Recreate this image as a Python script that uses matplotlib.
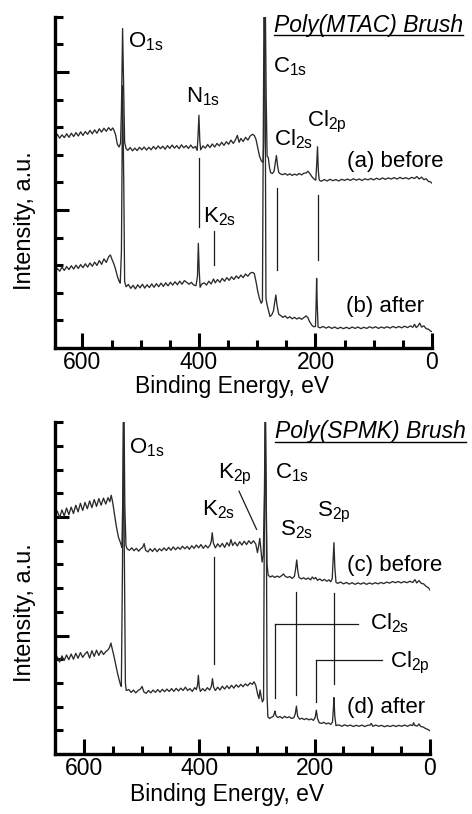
import numpy as np
import matplotlib
matplotlib.use('Agg')
import matplotlib.pyplot as plt
from matplotlib.ticker import MultipleLocator
from matplotlib.lines import Line2D

plt.rcParams['font.family'] = ['Liberation Sans', 'DejaVu Sans']
plt.rcParams['mathtext.fontset'] = 'custom'
plt.rcParams['mathtext.rm'] = 'Liberation Sans'
plt.rcParams['mathtext.it'] = 'Liberation Sans:italic'

# ---- spectra: (binding energy eV, intensity a.u.) ----
# top panel, Poly(MTAC): (a) before, (b) after
spec_a = [(647, 7.60), (643, 7.74), (639, 7.60), (635, 7.72), (631, 7.62), (627, 7.76), (623, 7.63),
          (619, 7.78), (615, 7.66), (611, 7.80), (607, 7.68), (603, 7.83), (599, 7.70), (595, 7.84),
          (591, 7.74), (587, 7.88), (583, 7.76), (579, 7.90), (575, 7.78), (571, 7.94), (567, 7.82),
          (563, 7.96), (559, 7.85), (555, 7.98), (551, 7.88), (548, 7.97), (546, 7.90), (543, 7.72),
          (540, 7.38), (537, 7.28), (534.5, 7.42), (533, 8.6), (531, 11.57), (529, 9.2), (527.5, 7.45),
          (525, 7.22), (522, 7.16), (518, 7.26), (514, 7.14), (510, 7.24), (506, 7.15), (502, 7.27),
          (498, 7.18), (494, 7.28), (490, 7.17), (486, 7.27), (482, 7.18), (478, 7.30), (474, 7.20),
          (470, 7.32), (466, 7.22), (462, 7.31), (458, 7.20), (454, 7.33), (450, 7.23), (446, 7.35),
          (442, 7.24), (438, 7.33), (434, 7.22), (430, 7.36), (426, 7.25), (422, 7.33), (418, 7.23),
          (414, 7.35), (410, 7.24), (406, 7.30), (403, 7.16), (401.5, 7.7), (400, 8.43), (398.5, 7.5),
          (397, 7.18), (393, 7.32), (389, 7.24), (385, 7.37), (381, 7.26), (377, 7.39), (373, 7.28),
          (369, 7.41), (365, 7.32), (361, 7.45), (357, 7.34), (353, 7.47), (349, 7.38), (345, 7.53),
          (341, 7.41), (337, 7.55), (334, 7.70), (331, 7.45), (328, 7.59), (324, 7.48), (320, 7.63),
          (316, 7.53), (312, 7.68), (308, 7.74), (305, 7.70), (302, 7.55), (299, 7.25), (296, 6.95),
          (293, 6.78), (290, 6.72), (288.5, 7.5), (286.5, 13.5), (284.5, 9.0), (283, 6.95), (281, 6.90),
          (279, 6.55), (277, 6.35), (274, 6.32), (271, 6.40), (269, 6.7), (267, 6.97), (265, 6.6),
          (263, 6.36), (260, 6.30), (256, 6.28), (252, 6.32), (248, 6.26), (244, 6.31), (240, 6.25),
          (236, 6.30), (232, 6.26), (228, 6.32), (224, 6.27), (220, 6.33), (216, 6.34), (213, 6.40),
          (210, 6.33), (206, 6.20), (202, 6.11), (199.5, 6.08), (198, 6.6), (196.5, 7.29), (195, 6.4),
          (193.5, 6.08), (190, 6.04), (185, 6.10), (180, 6.05), (175, 6.11), (170, 6.06), (165, 6.10),
          (160, 6.05), (155, 6.11), (150, 6.07), (145, 6.12), (140, 6.07), (135, 6.13), (130, 6.08),
          (125, 6.12), (120, 6.07), (115, 6.13), (110, 6.09), (105, 6.14), (100, 6.09), (95, 6.15),
          (90, 6.10), (85, 6.16), (80, 6.11), (75, 6.16), (70, 6.12), (65, 6.17), (60, 6.12),
          (55, 6.18), (50, 6.13), (45, 6.17), (40, 6.12), (35, 6.18), (30, 6.14), (26, 6.21),
          (22, 6.12), (18, 6.19), (14, 6.10), (10, 6.13), (6, 6.03), (3, 6.02), (0, 5.97)]

spec_b = [(647, 2.76), (643, 2.88), (639, 2.78), (635, 2.93), (631, 2.81), (627, 2.95), (623, 2.84),
          (619, 2.98), (615, 2.86), (611, 3.00), (607, 2.88), (603, 3.02), (599, 2.91), (595, 3.05),
          (591, 2.93), (587, 3.08), (583, 2.96), (579, 3.11), (575, 2.99), (571, 3.17), (567, 3.03),
          (563, 3.23), (559, 3.10), (555, 3.30), (552, 3.37), (549, 3.20), (546, 3.05), (543, 2.85),
          (540, 2.60), (537, 2.42), (535, 2.35), (533, 3.5), (531, 9.5), (529, 6.0), (527.5, 2.4),
          (525, 2.22), (521, 2.30), (517, 2.16), (513, 2.27), (509, 2.14), (505, 2.29), (501, 2.18),
          (497, 2.31), (493, 2.17), (489, 2.29), (485, 2.19), (481, 2.32), (477, 2.20), (473, 2.33),
          (469, 2.22), (465, 2.35), (461, 2.23), (457, 2.36), (453, 2.25), (449, 2.38), (445, 2.28),
          (441, 2.40), (437, 2.29), (433, 2.42), (429, 2.31), (425, 2.44), (421, 2.38), (417, 2.31),
          (413, 2.38), (409, 2.28), (405, 2.26), (402.5, 2.6), (401, 3.79), (399.5, 2.8), (398, 2.20),
          (395, 2.32), (391, 2.36), (387, 2.28), (383, 2.42), (379, 2.32), (375, 2.50), (372, 2.36),
          (368, 2.48), (364, 2.38), (360, 2.52), (356, 2.42), (352, 2.55), (348, 2.45), (344, 2.58),
          (340, 2.48), (336, 2.61), (332, 2.52), (328, 2.64), (324, 2.55), (320, 2.68), (316, 2.60),
          (312, 2.71), (308, 2.74), (305, 2.70), (302, 2.40), (299, 2.05), (296, 1.78), (293, 1.62),
          (291, 1.70), (290, 6.0), (288, 13.5), (286, 8.0), (285, 1.8), (283, 1.56), (280, 1.30),
          (278, 1.14), (275, 1.20), (272, 1.35), (270, 1.65), (268, 1.92), (266, 1.55), (263, 1.22),
          (260, 1.18), (256, 1.11), (252, 1.16), (248, 1.08), (244, 1.13), (240, 1.06), (236, 1.11),
          (232, 1.05), (228, 1.10), (224, 1.04), (220, 1.10), (216, 1.16), (213, 1.10), (210, 0.95),
          (206, 0.82), (203, 0.77), (200, 0.78), (199, 1.5), (198, 2.52), (197, 1.6), (195.5, 0.76),
          (192, 0.73), (187, 0.78), (182, 0.72), (177, 0.77), (172, 0.71), (167, 0.76), (162, 0.70),
          (157, 0.75), (152, 0.70), (147, 0.75), (142, 0.70), (137, 0.76), (132, 0.71), (127, 0.76),
          (122, 0.70), (117, 0.75), (112, 0.71), (107, 0.77), (102, 0.72), (97, 0.77), (92, 0.71),
          (87, 0.76), (82, 0.72), (77, 0.77), (72, 0.72), (67, 0.78), (62, 0.73), (57, 0.78),
          (52, 0.73), (47, 0.79), (42, 0.74), (37, 0.80), (33, 0.75), (30, 0.86), (27, 0.74),
          (24, 0.80), (21, 0.90), (18, 0.76), (14, 0.80), (10, 0.70), (6, 0.68), (3, 0.62), (0, 0.59)]

# bottom panel, Poly(SPMK): (c) before, (d) after
spec_c = [(650, 10.00), (646, 10.25), (642, 9.98), (638, 10.30), (634, 10.05), (630, 10.38), (626, 10.10),
          (622, 10.42), (618, 10.15), (614, 10.50), (610, 10.22), (606, 10.58), (602, 10.28), (598, 10.62),
          (594, 10.35), (590, 10.68), (586, 10.40), (582, 10.74), (578, 10.45), (574, 10.78), (570, 10.50),
          (566, 10.80), (562, 10.55), (558, 10.82), (555, 10.65), (552.5, 10.92), (550, 10.62), (547, 10.15),
          (544, 9.65), (540, 9.15), (536, 8.88), (534, 8.72), (532, 11.5), (530.5, 15.0), (529, 10.5),
          (527, 8.8), (525, 8.66), (521, 8.60), (517, 8.70), (513, 8.58), (509, 8.68), (505, 8.56),
          (501, 8.67), (498, 8.72), (495.5, 8.88), (493, 8.60), (489, 8.53), (485, 8.66), (481, 8.55),
          (477, 8.68), (473, 8.54), (469, 8.66), (465, 8.58), (461, 8.70), (457, 8.59), (453, 8.72),
          (449, 8.60), (445, 8.74), (441, 8.62), (437, 8.73), (433, 8.64), (429, 8.77), (425, 8.66),
          (421, 8.76), (417, 8.64), (413, 8.79), (409, 8.68), (405, 8.82), (401, 8.70), (397, 8.84),
          (393, 8.68), (389, 8.81), (385, 8.70), (381, 8.83), (379, 9.0), (377.5, 9.34), (375.5, 8.9),
          (372, 8.70), (368, 8.87), (364, 8.74), (360, 8.89), (356, 8.72), (352, 8.92), (348, 8.78),
          (345, 9.05), (342, 8.80), (338, 8.94), (334, 8.78), (330, 8.96), (326, 8.82), (322, 8.98),
          (318, 8.84), (314, 9.00), (310, 8.88), (306, 9.0), (302, 8.86), (299, 8.50), (297, 8.78),
          (295, 9.10), (293, 8.60), (291, 8.10), (289, 8.40), (287, 11.0), (285.5, 15.0), (284, 11.0),
          (282.5, 8.0), (280.5, 7.55), (277, 7.47), (273, 7.52), (269, 7.45), (265, 7.51), (261, 7.46),
          (257, 7.53), (254, 7.60), (251, 7.50), (247, 7.45), (243, 7.49), (239, 7.41), (235, 7.50),
          (233, 7.80), (231, 8.19), (229, 7.70), (227, 7.45), (223, 7.39), (219, 7.44), (215, 7.37),
          (211, 7.43), (207, 7.35), (204, 7.47), (201, 7.39), (198, 7.45), (195, 7.33), (191, 7.39),
          (187, 7.31), (183, 7.37), (179, 7.29), (175, 7.35), (172, 7.27), (169.5, 7.40), (168, 8.20),
          (166.5, 8.92), (165, 7.90), (163, 7.25), (160, 7.20), (155, 7.26), (150, 7.18), (145, 7.24),
          (140, 7.17), (135, 7.23), (130, 7.16), (125, 7.22), (120, 7.17), (115, 7.23), (110, 7.16),
          (105, 7.22), (100, 7.17), (95, 7.23), (90, 7.18), (85, 7.24), (80, 7.19), (75, 7.26),
          (70, 7.21), (65, 7.28), (60, 7.23), (55, 7.28), (50, 7.22), (45, 7.28), (40, 7.23),
          (35, 7.29), (30, 7.24), (26, 7.36), (23, 7.22), (19, 7.32), (15, 7.20), (11, 7.18),
          (7, 7.08), (3, 7.02), (0, 6.92)]

spec_d = [(650, 3.90), (646, 4.10), (642, 3.88), (638, 4.14), (634, 3.95), (630, 4.18), (626, 3.98),
          (622, 4.22), (618, 4.00), (614, 4.25), (610, 4.04), (606, 4.28), (602, 4.08), (598, 4.22),
          (594, 4.32), (590, 4.05), (586, 4.36), (582, 4.12), (578, 4.38), (574, 4.16), (570, 4.36),
          (566, 4.20), (562, 4.32), (558, 4.40), (555.5, 4.50), (553, 4.68), (550.5, 4.40), (548, 4.15),
          (545, 3.80), (542, 3.45), (539, 3.15), (536.5, 2.92), (535, 2.85), (533, 8.0), (531.5, 15.0),
          (530, 9.0), (528, 3.0), (526.5, 2.68), (522, 2.72), (518, 2.60), (514, 2.70), (510, 2.58),
          (506, 2.68), (502, 2.74), (499, 2.85), (496, 2.62), (492, 2.56), (488, 2.68), (484, 2.58),
          (480, 2.70), (476, 2.60), (472, 2.72), (468, 2.61), (464, 2.73), (460, 2.63), (456, 2.74),
          (452, 2.64), (448, 2.76), (444, 2.64), (440, 2.77), (436, 2.66), (432, 2.78), (428, 2.68),
          (424, 2.82), (420, 2.68), (416, 2.76), (412, 2.64), (408, 2.80), (405, 2.72), (403, 2.90),
          (401.5, 3.32), (400, 2.85), (398, 2.64), (394, 2.76), (390, 2.66), (386, 2.80), (382, 2.70),
          (379, 2.85), (377, 3.18), (375, 2.82), (372, 2.68), (368, 2.82), (364, 2.70), (360, 2.86),
          (356, 2.74), (352, 2.88), (348, 2.76), (344, 2.90), (340, 2.78), (336, 2.92), (332, 2.82),
          (328, 2.94), (324, 2.84), (320, 2.96), (316, 2.88), (312, 3.00), (308, 2.94), (305, 3.05),
          (302, 2.90), (299, 2.55), (296.5, 2.34), (294.5, 2.70), (292.5, 2.40), (290.5, 2.20),
          (288.5, 2.30), (287.5, 8.0), (285.5, 15.0), (283.5, 9.0), (282.5, 2.50), (281, 1.57), (278, 1.50),
          (275, 1.55), (272, 1.58), (270, 1.70), (268.8, 1.81), (267, 1.62), (264, 1.54), (260, 1.58),
          (256, 1.51), (252, 1.59), (248, 1.53), (244, 1.57), (240, 1.50), (236, 1.53), (233.5, 1.70),
          (231.5, 2.02), (229.5, 1.60), (226, 1.47), (222, 1.51), (218, 1.45), (214, 1.50), (210, 1.44),
          (206, 1.48), (202, 1.42), (199, 1.55), (197, 1.85), (195, 1.50), (192, 1.32), (188, 1.29),
          (184, 1.34), (180, 1.27), (176, 1.31), (172, 1.25), (169, 1.35), (167.5, 1.90), (166.5, 2.38),
          (165, 1.60), (163, 1.20), (158, 1.23), (153, 1.17), (148, 1.23), (143, 1.18), (138, 1.22),
          (133, 1.16), (128, 1.21), (123, 1.17), (118, 1.22), (113, 1.16), (108, 1.21), (104, 1.22),
          (102, 1.29), (99, 1.17), (94, 1.22), (89, 1.17), (84, 1.21), (79, 1.15), (74, 1.20),
          (69, 1.16), (64, 1.21), (59, 1.16), (54, 1.21), (49, 1.17), (44, 1.22), (39, 1.17),
          (34, 1.23), (30, 1.20), (28.5, 1.32), (26, 1.20), (22, 1.18), (19, 1.27), (16, 1.16),
          (12, 1.14), (8, 1.08), (4, 1.04), (0, 0.98)]

# peak marker lines: (E1, v1, E2, v2)
marks_top = [(399.2, 6.87, 399.2, 4.40), (374.6, 4.22, 374.6, 3.01),
             (266.0, 5.78, 266.0, 2.81), (195.6, 5.54, 195.6, 3.19)]
marks_bottom = [(375.0, 8.30, 375.0, 3.80), (331.0, 11.09, 300.6, 9.48),
                (231.5, 6.85, 231.5, 2.48), (167.0, 6.80, 167.0, 2.97),
                (268.8, 2.38, 268.8, 5.49), (268.8, 5.49, 124.3, 5.49),
                (197.6, 2.20, 197.6, 3.95), (197.6, 3.95, 83.8, 3.95)]

# peak labels: (text, E, v)
labels_top = [(r'O$_\mathregular{1s}$', 521, 10.9), (r'N$_\mathregular{1s}$', 422, 8.9),
              (r'C$_\mathregular{1s}$', 273.5, 10.0), (r'Cl$_\mathregular{2p}$', 214, 8.02),
              (r'Cl$_\mathregular{2s}$', 271, 7.33), (r'K$_\mathregular{2s}$', 392.5, 4.55),
              ('(a) before', 146.5, 6.57), ('(b) after', 147.5, 1.3)]
labels_bottom = [(r'O$_\mathregular{1s}$', 521, 12.7), (r'C$_\mathregular{1s}$', 268.8, 11.65),
                 (r'K$_\mathregular{2p}$', 367, 11.65), (r'K$_\mathregular{2s}$', 395, 10.07),
                 (r'S$_\mathregular{2s}$', 260, 9.24), (r'S$_\mathregular{2p}$', 196.5, 10.04),
                 ('(c) before', 144.5, 7.73), (r'Cl$_\mathregular{2s}$', 104, 5.28),
                 (r'Cl$_\mathregular{2p}$', 69.4, 3.67), ('(d) after', 144.5, 1.71)]
titles = [('Poly(MTAC) Brush', 271, 11.46), ('Poly(SPMK) Brush', 268.8, 13.33)]

W, H = 472, 814
fig = plt.figure(figsize=(W / 100, H / 100), dpi=100)
ax1 = fig.add_axes([55 / W, (H - 348) / H, 377 / W, 331.3 / H])
ax2 = fig.add_axes([55 / W, (H - 754) / H, 375 / W, 331.7 / H])


def style_axis(ax, xmax, ymax):
    ax.set_xlim(xmax, 0)
    ax.set_ylim(0, ymax)
    for s in ['top', 'right']:
        ax.spines[s].set_visible(False)
    for s in ['left', 'bottom']:
        ax.spines[s].set_linewidth(2.4)
    ax.xaxis.set_major_locator(MultipleLocator(200))
    ax.xaxis.set_minor_locator(MultipleLocator(50))
    ax.yaxis.set_major_locator(MultipleLocator(5))
    ax.yaxis.set_minor_locator(MultipleLocator(1))
    ax.tick_params(axis='x', which='major', direction='in', length=11, width=2.2,
                   labelsize=16.5, pad=2)
    ax.tick_params(axis='x', which='minor', direction='in', length=6, width=2.2)
    ax.tick_params(axis='y', which='major', direction='in', length=10, width=2.2, labelleft=False)
    ax.tick_params(axis='y', which='minor', direction='in', length=5.5, width=2.2)
    ax.tick_params(top=False, right=False)


style_axis(ax1, 647, 12)
style_axis(ax2, 650, 14)

for ax, specs in [(ax1, [spec_a, spec_b]), (ax2, [spec_c, spec_d])]:
    for sp in specs:
        e, v = np.array(sp).T
        ax.plot(e, v, color='#2a2a2a', lw=0.95)

for ax, marks in [(ax1, marks_top), (ax2, marks_bottom)]:
    for e1, v1, e2, v2 in marks:
        ax.plot([e1, e2], [v1, v2], color='#1a1a1a', lw=0.9)

for ax, labs in [(ax1, labels_top), (ax2, labels_bottom)]:
    for t, e, v in labs:
        ax.text(e, v, t, fontsize=16, ha='left', va='baseline', clip_on=False)

title_texts = []
for ax, (t, e, v) in zip([ax1, ax2], titles):
    tt = ax.text(e, v, t, fontsize=16.5, style='italic', ha='left', va='baseline', clip_on=False)
    title_texts.append((ax, tt, e, v))

# axis labels
for yc in [220.7, 612.3]:
    fig.text(25 / W, 1 - yc / H, 'Intensity, a.u.', rotation=90, fontsize=17,
             ha='center', va='center')
for xc, yb in [(231.7, 393), (226.7, 801)]:
    fig.text(xc / W, 1 - yb / H, 'Binding Energy, eV', fontsize=16.5, ha='center', va='baseline')

# underline the panel titles
fig.canvas.draw()
inv = fig.transFigure.inverted()
for ax, tt, e, v in title_texts:
    bb = tt.get_window_extent()
    _, yd = ax.transData.transform((e, v))
    p0 = inv.transform((bb.x0, yd - 3.5))
    p1 = inv.transform((bb.x1, yd - 3.5))
    fig.add_artist(Line2D([p0[0], p1[0]], [p0[1], p1[1]], transform=fig.transFigure,
                          color='black', lw=1.0))

fig.savefig('out.png', dpi=100)
